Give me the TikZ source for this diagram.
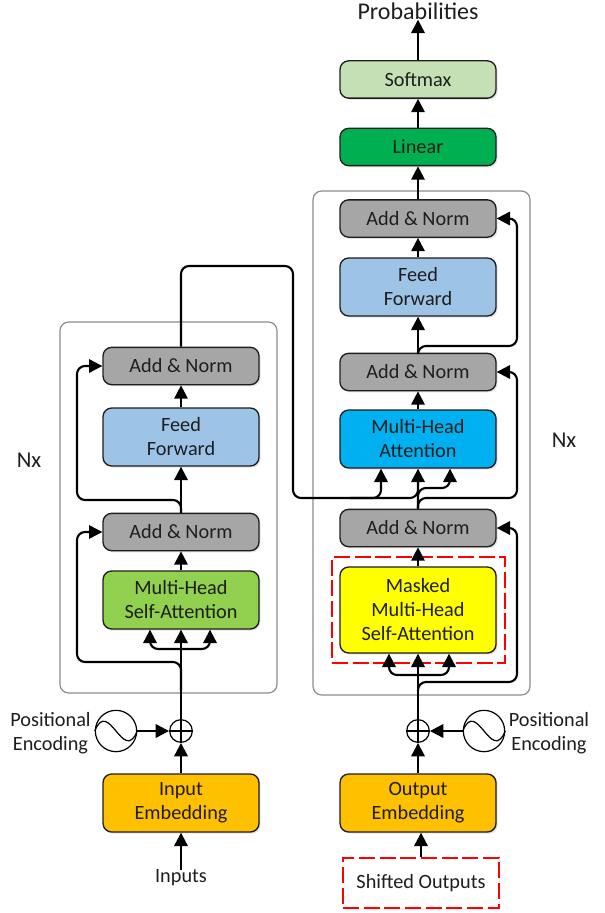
\documentclass[tikz,border=0pt]{standalone}
\usepackage{fontspec}
\setmainfont{Carlito}
\usetikzlibrary{arrows.meta,shadows,calc}
\definecolor{ink}{HTML}{1E1E1E}
\definecolor{cgray}{HTML}{A6A6A6}
\definecolor{cblue}{HTML}{9DC3E6}
\definecolor{cgreen}{HTML}{92D050}
\definecolor{corange}{HTML}{FFC000}
\definecolor{ccyan}{HTML}{00B0F0}
\definecolor{clinear}{HTML}{00B050}
\definecolor{csoft}{HTML}{C5E0B4}
\definecolor{cframe}{HTML}{8C8C8C}
\definecolor{cyel}{HTML}{FFFF00}
\definecolor{cred}{HTML}{FF0000}
\tikzset{
  txt/.style={font=\fontsize{15.2}{18}\selectfont,text=ink,align=center,inner sep=0pt},
  block/.style={txt,draw=ink,line width=1pt,rounded corners=6.5pt,minimum width=117pt,
     drop shadow={shadow xshift=1.2pt,shadow yshift=-1.2pt,opacity=.22}},
  short/.style={block,minimum height=28pt},
  tall/.style={block,minimum height=43.5pt},
  frame/.style={draw=cframe,line width=.9pt,rounded corners=6.5pt,inner sep=0pt},
  reddash/.style={draw=cred,line width=1.4pt,dash pattern=on 12pt off 3.5pt,inner sep=0pt,
     drop shadow={shadow xshift=1pt,shadow yshift=-1pt,opacity=.12},fill=white},
  wire/.style={draw=black,line width=1.6pt,rounded corners=6pt},
  arrow/.style={wire,-{Triangle[length=10pt,width=10pt]}},
  osc/.style={draw=black,line width=.9pt,circle,minimum size=31pt,inner sep=0pt,fill=white},
  adder/.style={draw=black,line width=.9pt,circle,minimum size=17pt,inner sep=0pt,fill=white},
  thin/.style={draw=black,line width=.9pt},
}
\begin{document}
\begin{tikzpicture}[x=.75pt,y=-.75pt]
\useasboundingbox (0,0) rectangle (604,913);
% containers
\node[frame,minimum width=162.75pt,minimum height=278.25pt] (encframe) at (168.5,507.5) {};
\node[frame,minimum width=162.75pt,minimum height=378pt] (decframe) at (421.5,443) {};
\node[reddash,minimum width=129.75pt,minimum height=79.5pt] (maskframe) at (418.5,610) {};
% waypoints
\coordinate (encout1) at (293,266);
\coordinate (encout2) at (293,498);
\coordinate (memS) at (350,498);
\coordinate (memA) at (381,498);
\coordinate (memB) at (418,498);
\coordinate (qa) at (450,488);
\coordinate (qb) at (418,488);
\coordinate (r1) at (517,498);
\coordinate (r1b) at (418,498);
\coordinate (r2) at (517,346);
\coordinate (r3) at (517,682);
\coordinate (l1) at (77,662);
\coordinate (l2) at (77,500);
\coordinate (lb1) at (150,649);
\coordinate (lb2) at (210,649);
\coordinate (rb1) at (389,675);
\coordinate (rb2) at (449,675);
% nodes (placed first so that connectors can name them)
\node[short,fill=csoft] (softmax) at (418,79.5) {Softmax};
\node[short,fill=clinear] (linear) at (418,147) {Linear};
\node[short,fill=cgray] (dan3) at (418,218.5) {Add \& Norm};
\node[tall,fill=cblue] (dff) at (418,287) {Feed\\Forward};
\node[short,fill=cgray] (dan2) at (418,372) {Add \& Norm};
\node[tall,fill=ccyan] (dmha) at (418,439) {Multi-Head\\Attention};
\node[short,fill=cgray] (dan1) at (418,528) {Add \& Norm};
\node[block,fill=cyel,minimum height=64.5pt] (masked) at (418,610) {Masked\\Multi-Head\\Self-Attention};
\node[tall,fill=corange] (oemb) at (418,803) {Output\\Embedding};
\node[short,fill=cgray] (ean2) at (181,366) {Add \& Norm};
\node[tall,fill=cblue] (eff) at (181,437) {Feed\\Forward};
\node[short,fill=cgray] (ean1) at (181,532) {Add \& Norm};
\node[tall,fill=cgreen] (emha) at (181,600) {Multi-Head\\Self-Attention};
\node[tall,fill=corange] (iemb) at (181,803) {Input\\Embedding};
\node[adder] (eadd) at (181,731) {};
\node[adder] (dadd) at (418,731) {};
\node[osc] (eosc) at (116,731) {};
\node[osc] (dosc) at (484,731) {};
\node[txt] (epos) at (50.5,733) {Positional\\Encoding};
\node[txt] (dpos) at (549,733) {Positional\\Encoding};
\node[txt] (inputs) at (181,878) {Inputs};
\node[reddash,txt,fill=white,minimum width=117pt,minimum height=38pt] (shifted) at (421,883) {Shifted Outputs};
\node[txt] (probs) at (418,11) {\fontsize{18}{18}\selectfont Probabilities};
\node[txt] (enx) at (29,460) {\fontsize{17}{18}\selectfont Nx};
\node[txt] (dnx) at (564,440) {\fontsize{17}{18}\selectfont Nx};
% oscillator waves
\draw[thin] (eosc.west) .. controls ++(14,-34) and ++(-14,34) .. (eosc.east);
\draw[thin] (dosc.west) .. controls ++(14,-34) and ++(-14,34) .. (dosc.east);
% adder crosses
\draw[thin] (eadd.west) -- (eadd.east);
\draw[thin] (dadd.west) -- (dadd.east);
% encoder connectors
\draw[arrow] (inputs.north) -- (iemb.south);
\draw[arrow] (iemb.north) -- (eadd.south);
\draw[arrow] (eosc.east) -- (eadd.west);
\draw[arrow] (eadd.south) -- (emha.south);
\draw[arrow] (eadd.north |- lb1) -- (lb1) -- (emha.south -| lb1);
\draw[arrow] (eadd.north |- lb2) -- (lb2) -- (emha.south -| lb2);
\draw[arrow] ($(eadd.north)+(0,-28)$) -- (eadd.north |- l1) -- (l1) -- (l1 |- ean1.west) -- (ean1.west);
\draw[arrow] (emha.north) -- (ean1.south);
\draw[arrow] (ean1.north) -- (eff.south);
\draw[arrow] (ean1.north) -- (ean1.north |- l2) -- (l2) -- (l2 |- ean2.west) -- (ean2.west);
\draw[arrow] (eff.north) -- (ean2.south);
% encoder to decoder
\draw[arrow] (ean2.north) -- (ean2.north |- encout1) -- (encout1) -- (encout2) -- (memA) -- (memA |- dmha.south);
\draw[arrow] (memS) -- (memB) -- (dmha.south);
% decoder connectors
\draw[arrow] (shifted.north) -- (shifted.north |- oemb.south);
\draw[arrow] (oemb.north) -- (dadd.south);
\draw[arrow] (dosc.west) -- (dadd.east);
\draw[arrow] (dadd.south) -- (masked.south);
\draw[arrow] (dadd.north |- rb1) -- (rb1) -- (masked.south -| rb1);
\draw[arrow] (dadd.north |- rb2) -- (rb2) -- (masked.south -| rb2);
\draw[arrow] ($(dadd.north)+(0,-28)$) -- (dadd.north |- r3) -- (r3) -- (r3 |- dan1.east) -- (dan1.east);
\draw[arrow] (masked.north) -- (dan1.south);
\draw[arrow] (dan1.north) -- (qb) -- (qa) -- (qa |- dmha.south);
\draw[arrow] (dan1.north) -- (r1b) -- (r1) -- (r1 |- dan2.east) -- (dan2.east);
\draw[arrow] (dmha.north) -- (dan2.south);
\draw[arrow] (dan2.north) -- (dff.south);
\draw[arrow] (dan2.north) -- (dan2.north |- r2) -- (r2) -- (r2 |- dan3.east) -- (dan3.east);
\draw[arrow] (dff.north) -- (dan3.south);
\draw[arrow] (dan3.north) -- (linear.south);
\draw[arrow] (linear.north) -- (softmax.south);
\draw[arrow] (softmax.north) -- (probs.south);
\end{tikzpicture}
\end{document}
